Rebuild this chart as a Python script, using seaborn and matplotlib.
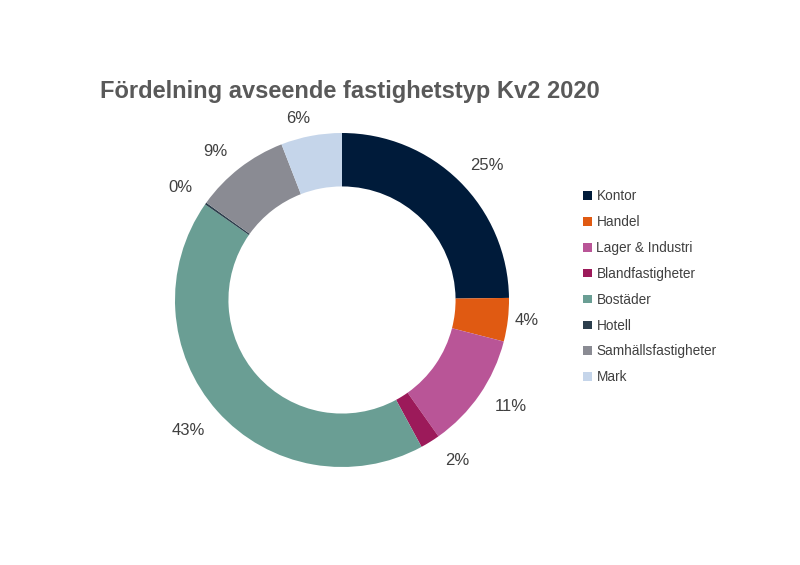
import matplotlib
matplotlib.use("Agg")
import matplotlib.pyplot as plt
import seaborn as sns
import numpy as np
from matplotlib.patches import Patch

categories = ["Kontor", "Handel", "Lager & Industri", "Blandfastigheter",
              "Bostäder", "Hotell", "Samhällsfastigheter", "Mark"]
values = [24.8, 4.2, 11.2, 1.9, 42.6, 0.2, 9.2, 5.9]
colors = ["#001b3a", "#e05a12", "#b95597", "#9c1a5a",
          "#6a9e94", "#2c3e4c", "#8a8b93", "#c5d5ea"]
# label placement (style): radial distance and clockwise angular shift in degrees
label_dist = [1.186, 1.114, 1.198, 1.18, 1.204, 1.18, 1.168, 1.12]
label_shift = [2.4, -0.6, -2.3, -3.8, 1.4, -0.6, -2.8, -3.0]

sns.set_theme(style="white")
plt.rcParams['font.family'] = ['Liberation Sans', 'DejaVu Sans']
palette = sns.color_palette(colors)

fig = plt.figure(figsize=(8, 5.65), dpi=100)
fig.patch.set_facecolor("white")
R = 167
L = 1.3
W = 2 * L * R
ax = fig.add_axes([(342 - W / 2) / 800, (265 - W / 2) / 565, W / 800, W / 565])

wedges, texts, autotexts = ax.pie(
    values, colors=palette, startangle=90, counterclock=False,
    wedgeprops=dict(width=0.32, edgecolor="none"),
    autopct=lambda p: f"{p:.0f}%", pctdistance=1.0,
    textprops=dict(color="#404040", fontsize=12))
for w, t, d, s in zip(wedges, autotexts, label_dist, label_shift):
    th = np.deg2rad((w.theta1 + w.theta2) / 2 - s)
    t.set_position((d * np.cos(th), d * np.sin(th)))
ax.set_xlim(-L, L)
ax.set_ylim(-L, L)
ax.set_aspect("equal")
ax.axis("off")

fig.text(350 / 800, 1 - 92 / 565, "Fördelning avseende fastighetstyp Kv2 2020",
         ha="center", va="center", fontsize=17, fontweight="bold", color="#595959")

handles = [Patch(facecolor=c, edgecolor="none") for c in palette]
fig.legend(handles, categories, loc="upper left",
           bbox_to_anchor=(578 / 800, 1 - 184 / 565), frameon=False,
           fontsize=9.8, labelcolor="#404040", handlelength=0.6, handleheight=0.6,
           handletextpad=0.35, labelspacing=0.87, borderaxespad=0)

fig.savefig("out.png", dpi=100, facecolor="white")
